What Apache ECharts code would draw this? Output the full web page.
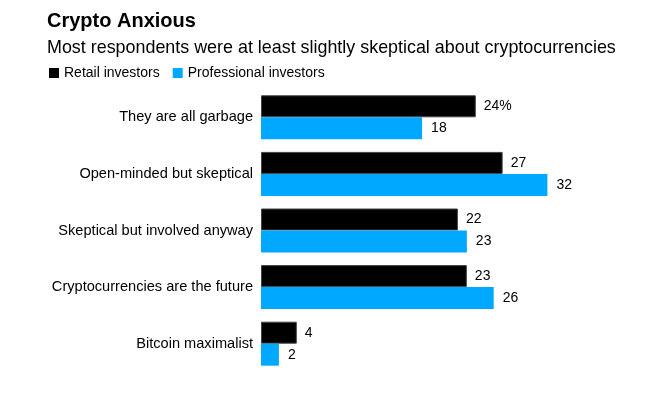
<!DOCTYPE html>
<html>
<head>
<meta charset="utf-8">
<script src="https://cdn.jsdelivr.net/npm/echarts@6/dist/echarts.min.js"></script>
<style>
html,body{margin:0;padding:0;background:#fff;}
#c{width:655px;height:397px;}
</style>
</head>
<body>
<div id="c"></div>
<script>
var categories = ["They are all garbage", "Open-minded but skeptical", "Skeptical but involved anyway", "Cryptocurrencies are the future", "Bitcoin maximalist"];
var retail = [24, 27, 22, 23, 4];
var professional = [18, 32, 23, 26, 2];
var seriesNames = ["Retail investors", "Professional investors"];
var titleText = "Crypto Anxious";
var subtitleText = "Most respondents were at least slightly skeptical about cryptocurrencies";

var FONT = "'Liberation Sans', Arial, Helvetica, sans-serif";
var chart = echarts.init(document.getElementById('c'), null, {renderer: 'canvas'});
chart.setOption({
  animation: false,
  backgroundColor: '#fff',
  textStyle: {fontFamily: FONT},
  title: [
    {text: titleText, left: 42, top: 6, padding: 5, textStyle: {fontFamily: FONT, fontSize: 20, fontWeight: 'bold', color: '#000'}},
    {text: subtitleText, left: 42, top: 34, padding: 5, textStyle: {fontFamily: FONT, fontSize: 17.9, fontWeight: 'normal', color: '#000'}}
  ],
  legend: {
    data: seriesNames,
    left: 44, top: 61,
    icon: 'rect', itemWidth: 10, itemHeight: 10, itemGap: 13,
    itemStyle: {borderWidth: 0},
    textStyle: {fontFamily: FONT, fontSize: 14, color: '#000'}
  },
  grid: {left: 261, right: 36, top: 89, bottom: 25, containLabel: false},
  xAxis: {
    type: 'value', min: 0, max: 40, show: false
  },
  yAxis: {
    type: 'category', data: categories, inverse: true,
    axisLine: {show: false}, axisTick: {show: false}, splitLine: {show: false},
    axisLabel: {fontFamily: FONT, fontSize: 14.6, color: '#000', margin: 8, padding: [0, 0, 4, 0]}
  },
  series: [
    {
      name: seriesNames[0], type: 'bar', data: retail, barWidth: 22, barGap: '0%',
      itemStyle: {color: '#000', borderColor: '#444', borderWidth: 1},
      label: {show: true, position: 'right', distance: 8, fontFamily: FONT, fontSize: 14, color: '#000',
        formatter: function(p){ return p.dataIndex === 0 ? p.value + '%' : String(p.value); }}
    },
    {
      name: seriesNames[1], type: 'bar', data: professional, barWidth: 22, barGap: '0%',
      itemStyle: {color: '#00a8ff'},
      label: {show: true, position: 'right', distance: 9, fontFamily: FONT, fontSize: 14, color: '#000'}
    }
  ]
});
</script>
</body>
</html>
